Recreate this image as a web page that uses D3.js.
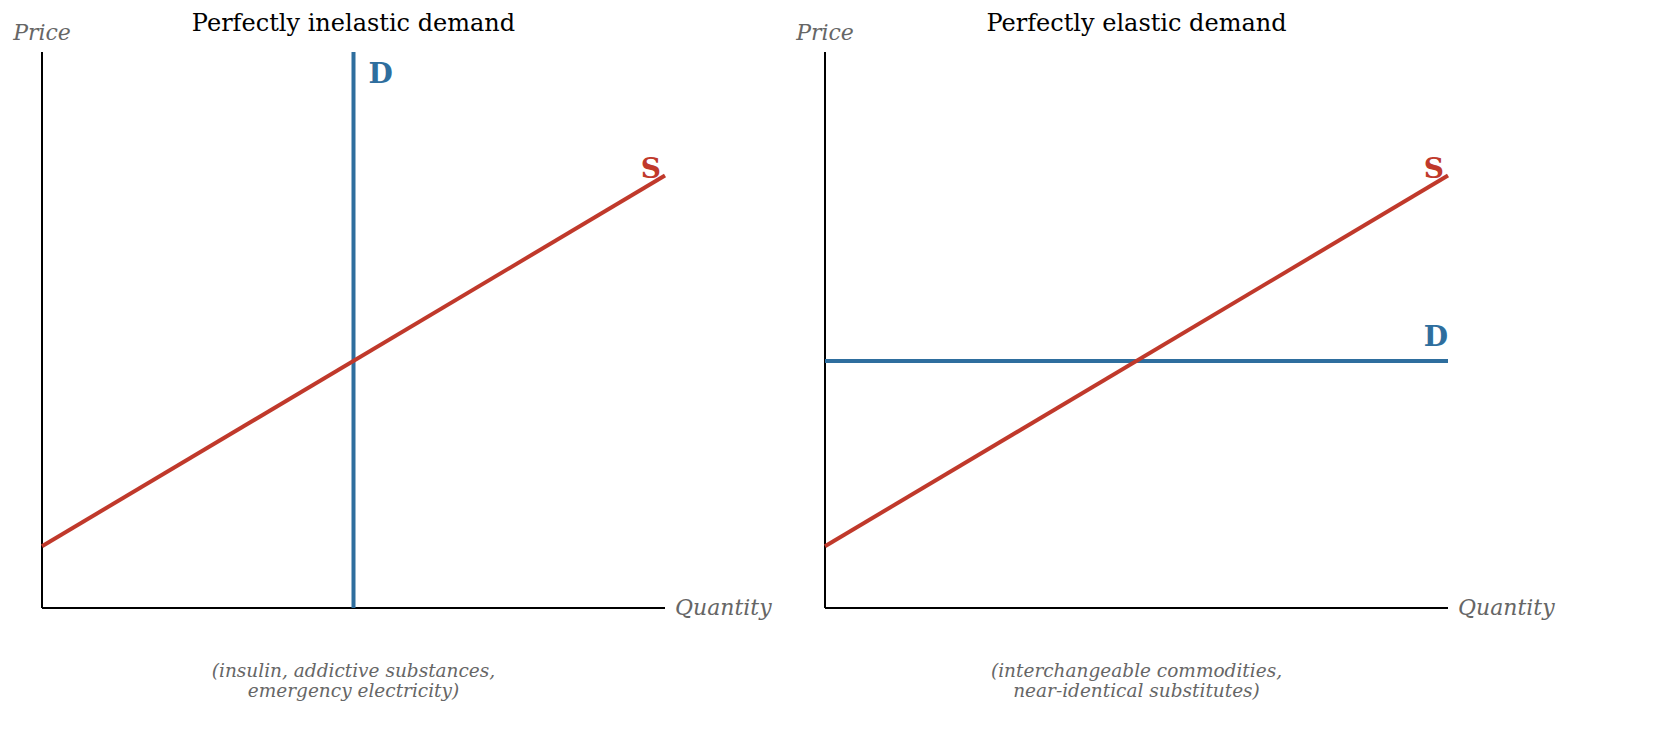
<!DOCTYPE html>
<html>
<head>
<meta charset="utf-8">
<script src="https://cdn.jsdelivr.net/npm/d3@7"></script>
<style>
  body { margin: 0; background: #fff; }
  text { font-family: "DejaVu Serif", serif; }
</style>
</head>
<body>
<script>
// data
let quantity = [0, 10];
let supplyPrice = [1, 7];      // S: P = 1 + 0.6 Q
let demandQ = 5;               // perfectly inelastic
let demandP = 4;               // perfectly elastic
let titles = ["Perfectly inelastic demand", "Perfectly elastic demand"];
let notes = [
  ["(insulin, addictive substances,", "emergency electricity)"],
  ["(interchangeable commodities,", "near-identical substitutes)"]
];

let red = "#c0392b", blue = "#2e6e9e", grey = "#666";

svg = d3.select("body")
  .append("svg")
  .attr("width", 1654)
  .attr("height", 751);

let yScale = d3.scaleLinear()
  .domain([0, 9])
  .range([608, 52]);

let line = (xs) => d3.line()
  .x(d => xs(d[0]))
  .y(d => yScale(d[1]));

[42, 825].forEach(function(left, i) {
  let xScale = d3.scaleLinear()
    .domain([0, 10])
    .range([left, left + 623]);
  let g = svg.append("g");
  let mid = xScale(5);

  // axes
  g.append("line")
    .attr("x1", xScale(0)).attr("x2", xScale(0))
    .attr("y1", yScale(0)).attr("y2", yScale(9))
    .attr("stroke", "#000").attr("stroke-width", 2);
  g.append("line")
    .attr("x1", xScale(0)).attr("x2", xScale(10))
    .attr("y1", yScale(0)).attr("y2", yScale(0))
    .attr("stroke", "#000").attr("stroke-width", 2);

  g.append("text")
    .attr("x", mid).attr("y", 31)
    .attr("text-anchor", "middle")
    .style("font-size", "24px")
    .text(titles[i]);
  g.append("text")
    .attr("x", xScale(0)).attr("y", 40)
    .attr("text-anchor", "middle")
    .style("font-size", "22px").style("font-style", "italic")
    .attr("fill", grey)
    .text("Price");
  g.append("text")
    .attr("x", xScale(10) + 10).attr("y", 615)
    .style("font-size", "22px").style("font-style", "italic")
    .attr("fill", grey)
    .text("Quantity");

  notes[i].forEach(function(t, j) {
    g.append("text")
      .attr("x", mid).attr("y", 677 + j * 20)
      .attr("text-anchor", "middle")
      .style("font-size", "18.5px").style("font-style", "italic")
      .attr("fill", grey)
      .text(t);
  });

  // demand
  let dPts = i == 0 ? [[demandQ, 0], [demandQ, 9]] : [[0, demandP], [10, demandP]];
  g.append("path")
    .attr("d", line(xScale)(dPts))
    .attr("fill", "none").attr("stroke", blue).attr("stroke-width", 4);

  // supply
  let sPts = quantity.map((q, k) => [q, supplyPrice[k]]);
  g.append("path")
    .attr("d", line(xScale)(sPts))
    .attr("fill", "none").attr("stroke", red).attr("stroke-width", 4);

  g.append("text")
    .attr("x", xScale(10) - 4).attr("y", yScale(7) + 2)
    .attr("text-anchor", "end")
    .style("font-size", "28px").style("font-weight", "bold")
    .attr("fill", red)
    .text("S");

  if (i == 0) {
    g.append("text")
      .attr("x", xScale(demandQ) + 15).attr("y", 83)
      .style("font-size", "28px").style("font-weight", "bold")
      .attr("fill", blue)
      .text("D");
  } else {
    g.append("text")
      .attr("x", xScale(10)).attr("y", yScale(demandP) - 15)
      .attr("text-anchor", "end")
      .style("font-size", "28px").style("font-weight", "bold")
      .attr("fill", blue)
      .text("D");
  }
});
</script>
</body>
</html>
